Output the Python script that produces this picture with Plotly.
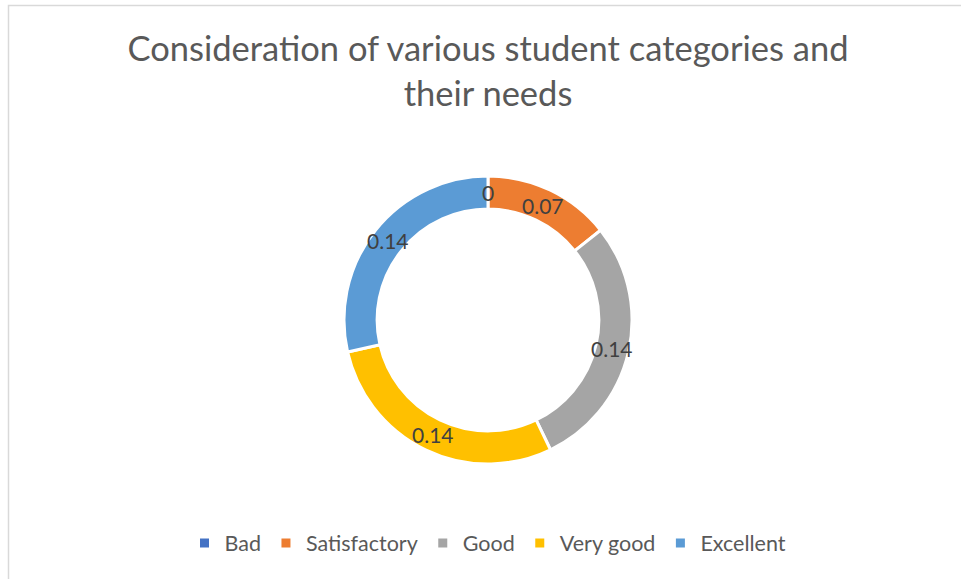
import plotly.graph_objects as go
import math

categories = ["Bad", "Satisfactory", "Good", "Very good", "Excellent"]
values = [0, 0.07, 0.14, 0.14, 0.14]
colors = ["#4472C4", "#ED7D31", "#A5A5A5", "#FFC000", "#5B9BD5"]
title_text = "Consideration of various student categories and<br>their needs"

W, H = 961, 579
cx, cy, R = 488, 320, 144
dom_x = [(cx - R) / W, (cx + R) / W]
dom_y = [1 - (cy + R) / H, 1 - (cy - R) / H]
hole = 0.77

fig = go.Figure()
fig.add_trace(go.Pie(
    labels=categories,
    values=values,
    sort=False,
    direction="clockwise",
    rotation=0,
    hole=hole,
    domain=dict(x=dom_x, y=dom_y),
    marker=dict(colors=colors, line=dict(color="white", width=3)),
    textinfo="none",
    hoverinfo="label+value",
    showlegend=True,
))

# data labels at the middle of each ring segment (Excel style, horizontal)
total = sum(values)
annotations = []
cum = 0
rmid = R * (1 + hole) / 2
for lab, v in zip(categories, values):
    ang = 2 * math.pi * (cum + v / 2) / total
    px = cx + rmid * math.sin(ang)
    py = cy - rmid * math.cos(ang)
    annotations.append(dict(x=px / W, y=1 - py / H, xref="paper", yref="paper",
                            xanchor="center", yanchor="middle",
                            text=str(v), showarrow=False,
                            font=dict(family="Lato", size=21, color="#404040")))
    cum += v

fig.update_layout(
    width=W, height=H,
    margin=dict(l=0, r=0, t=0, b=0),
    paper_bgcolor="white",
    plot_bgcolor="white",
    title=dict(text=title_text, x=cx / W, xanchor="center", y=1 - 61 / H, yanchor="top",
               font=dict(family="Lato", size=34.5, color="#595959")),
    legend=dict(orientation="h", x=cx / W, xanchor="center", y=1 - 543 / H, yanchor="middle",
                font=dict(family="Lato", size=21.5, color="#595959"), traceorder="normal"),
    annotations=annotations,
    shapes=[dict(type="rect", xref="paper", yref="paper", x0=8.5 / W, x1=1.02, y0=-0.02,
                 y1=1 - 5.5 / H, line=dict(color="#D9D9D9", width=1.5))],
)

fig.write_html("out.html", config={"displayModeBar": False},
               post_script="document.body.style.margin='0';document.body.style.overflow='hidden';")
